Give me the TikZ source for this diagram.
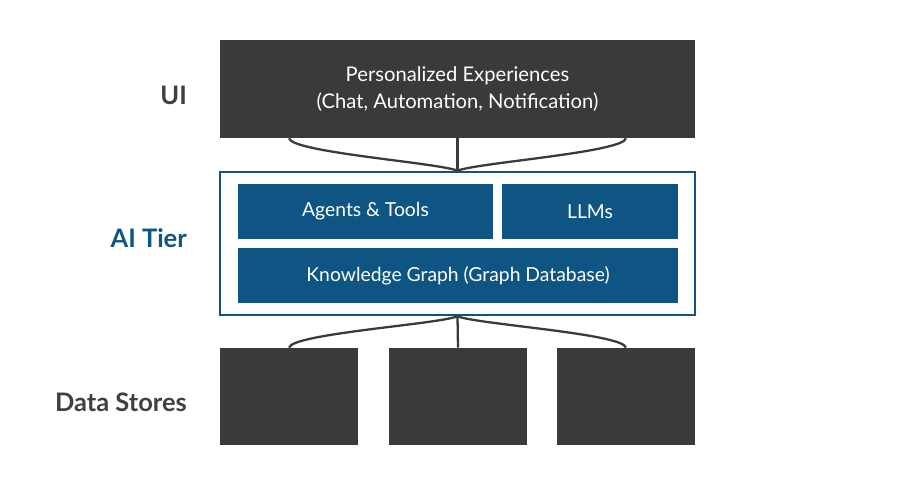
\documentclass[tikz,border=0pt]{standalone}
\usepackage{fontspec}
\setmainfont{Lato}
\usetikzlibrary{positioning}
\definecolor{darkbox}{HTML}{3A3A3A}
\definecolor{aiblue}{HTML}{0F5584}
\definecolor{labelgray}{HTML}{404040}

\begin{document}
\begin{tikzpicture}[x=0.02cm, y=-0.02cm,
    dark/.style={rectangle, fill=darkbox, draw=none, inner sep=0pt},
    blue/.style={rectangle, fill=aiblue, draw=none, inner sep=0pt, text=white,
                 font=\fontsize{11}{13}\selectfont},
    tier/.style={font=\fontsize{14.5}{17}\selectfont\bfseries, anchor=east},
    link/.style={draw=darkbox, line width=1.3pt}
]
    \useasboundingbox (0,0) rectangle (915,496);

    % UI
    \node[dark, minimum width=9.5cm, minimum height=1.96cm, text=white, align=center,
          font=\fontsize{11.5}{15}\selectfont] (ui) at (457.5,89)
          {Personalized Experiences\\(Chat, Automation, Notification)};
    \node[tier, text=labelgray] (uilabel) at (193,95) {UI};

    % AI tier
    \node[rectangle, draw=aiblue, line width=1.5pt, minimum width=9.5cm,
          minimum height=2.86cm] (ai) at (457.5,243.5) {};
    \node[blue, minimum width=5.1cm, minimum height=1.1cm] (agents) at (365.5,211.5) {Agents \& Tools};
    \node[blue, minimum width=3.52cm, minimum height=1.1cm] (llms) at (590,211.5) {LLMs};
    \node[blue, minimum width=8.8cm, minimum height=1.1cm] (kg) at (458,275.5) {Knowledge Graph (Graph Database)};
    \node[tier, text=aiblue] (ailabel) at (193,238) {AI Tier};

    % Data stores
    \node[dark, minimum width=2.76cm, minimum height=1.94cm] (ds1) at (289,396.5) {};
    \node[dark, minimum width=2.76cm, minimum height=1.94cm] (ds2) at (458,396.5) {};
    \node[dark, minimum width=2.76cm, minimum height=1.94cm] (ds3) at (626,396.5) {};
    \node[tier, text=labelgray] (dslabel) at (193,402) {Data Stores};

    % Links
    \draw[link] (ui.south -| ds1) .. controls +(3,14) and +(-20,-8) .. (ai.north);
    \draw[link] (ui.south -| ds3) .. controls +(-3,14) and +(20,-8) .. (ai.north);
    \draw[link] (ui.south) -- (ai.north);
    \draw[link] (ai.south) .. controls +(-20,8) and +(3,-14) .. (ds1.north);
    \draw[link] (ai.south) .. controls +(20,8) and +(-3,-14) .. (ds3.north);
    \draw[link] (ai.south) -- (ds2.north);
\end{tikzpicture}
\end{document}
